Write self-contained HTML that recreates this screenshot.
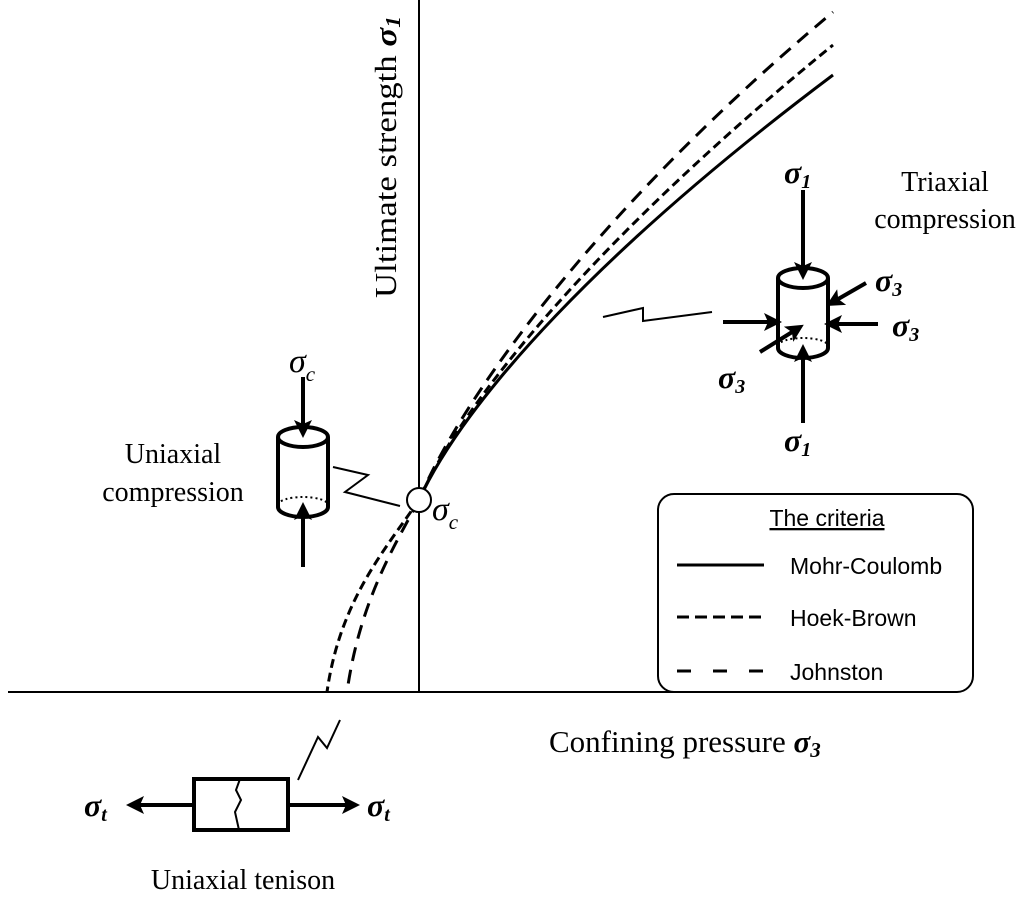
<!DOCTYPE html>
<html><head><meta charset="utf-8"><style>
html,body{margin:0;padding:0;background:#fff;}
svg{display:block;}
.s{font-family:"Liberation Serif",serif;}
.a{font-family:"Liberation Sans",sans-serif;}
</style></head><body>
<svg width="1024" height="897" viewBox="0 0 1024 897" xmlns="http://www.w3.org/2000/svg">
<defs>
<marker id="ah" markerWidth="4.5" markerHeight="4.5" refX="2.5" refY="2.25" orient="auto" markerUnits="strokeWidth"><path d="M0,0 L4.5,2.25 L0,4.5 L1,2.25 z" fill="#000"/></marker>
</defs>
<line x1="419" y1="0" x2="419" y2="692" stroke="#000" stroke-width="2"/>
<line x1="8" y1="692" x2="880" y2="692" stroke="#000" stroke-width="2"/>
<path d="M419,500 C465,400 600,250 833,75" fill="none" stroke="#000" stroke-width="3"/>
<path d="M419,500 C463,400 600,235 833,45" fill="none" stroke="#000" stroke-width="3" stroke-dasharray="9,5"/>
<path d="M419,500 C458,405 590,215 833,12" fill="none" stroke="#000" stroke-width="3" stroke-dasharray="14,9"/>
<path d="M419,500 C395,545 360,600 347,692" fill="none" stroke="#000" stroke-width="3" stroke-dasharray="14,9"/>
<path d="M419,500 C385,550 340,600 327,692" fill="none" stroke="#000" stroke-width="3" stroke-dasharray="9,5"/>
<circle cx="419" cy="500" r="12" fill="#fff" stroke="#000" stroke-width="2"/>
<text class="s" font-size="31" transform="translate(396,298) rotate(-90)" textLength="282" lengthAdjust="spacingAndGlyphs">Ultimate strength <tspan font-style="italic" font-weight="bold">σ<tspan font-size="21" dy="4">1</tspan></tspan></text>
<text class="s" font-size="31" x="549" y="752">Confining pressure <tspan font-style="italic" font-weight="bold">σ<tspan font-size="21" dy="5">3</tspan></tspan></text>
<text class="s" font-size="28" x="945" y="191" text-anchor="middle">Triaxial</text>
<text class="s" font-size="28" x="945" y="228" text-anchor="middle">compression</text>
<text class="s" font-size="28" x="173" y="463" text-anchor="middle">Uniaxial</text>
<text class="s" font-size="28" x="173" y="501" text-anchor="middle">compression</text>
<text class="s" font-size="28" x="243" y="889" text-anchor="middle">Uniaxial tenison</text>
<text class="s" font-size="34" font-style="italic" x="432" y="520">σ<tspan font-size="21" dy="9">c</tspan></text>
<g stroke="#000" stroke-width="4" fill="none">
<path d="M278,437 L278,507 A25,10 0 0 0 328,507 L328,437"/>
<ellipse cx="303" cy="437" rx="25" ry="10" fill="#fff"/>
<path d="M278,505 A25,8 0 0 1 328,505" stroke-width="2" stroke-dasharray="2,3"/>
<line x1="303" y1="377" x2="303" y2="430" marker-end="url(#ah)"/>
<line x1="303" y1="567" x2="303" y2="510" marker-end="url(#ah)"/>
</g>
<text class="s" font-size="34" font-style="italic" x="289" y="372">σ<tspan font-size="21" dy="9">c</tspan></text>
<polyline points="333,467 368,475 345,492 400,506" fill="none" stroke="#000" stroke-width="2"/>
<g stroke="#000" stroke-width="4" fill="none">
<path d="M778,278 L778,348 A25,10 0 0 0 828,348 L828,278"/>
<ellipse cx="803" cy="278" rx="25" ry="10" fill="#fff"/>
<path d="M778,346 A25,8 0 0 1 828,346" stroke-width="2" stroke-dasharray="2,3"/>
<line x1="803" y1="190" x2="803" y2="272" marker-end="url(#ah)"/>
<line x1="803" y1="423" x2="803" y2="352" marker-end="url(#ah)"/>
<line x1="723" y1="322" x2="774" y2="322" marker-end="url(#ah)"/>
<line x1="878" y1="324" x2="832" y2="324" marker-end="url(#ah)"/>
<line x1="866" y1="283" x2="833" y2="302" marker-end="url(#ah)"/>
<line x1="760" y1="352" x2="797" y2="329" marker-end="url(#ah)"/>
</g>
<g class="s" font-size="32" font-style="italic" font-weight="bold">
<text x="784" y="183">σ<tspan font-size="20" dy="5">1</tspan></text>
<text x="875" y="291">σ<tspan font-size="20" dy="5">3</tspan></text>
<text x="892" y="336">σ<tspan font-size="20" dy="5">3</tspan></text>
<text x="718" y="388">σ<tspan font-size="20" dy="5">3</tspan></text>
<text x="784" y="451">σ<tspan font-size="20" dy="5">1</tspan></text>
</g>
<polyline points="603,317 643,308 643,321 712,312" fill="none" stroke="#000" stroke-width="2"/>
<g stroke="#000" stroke-width="4" fill="none">
<rect x="194" y="779" width="94" height="51" fill="#fff"/>
<path d="M240,779 L236,790 L241,800 L235,812 L239,830" stroke-width="2"/>
<line x1="194" y1="805" x2="134" y2="805" marker-end="url(#ah)"/>
<line x1="288" y1="805" x2="352" y2="805" marker-end="url(#ah)"/>
</g>
<polyline points="298,780 318,737 327,748 340,720" fill="none" stroke="#000" stroke-width="2"/>
<g class="s" font-size="32" font-style="italic" font-weight="bold">
<text x="84" y="816">σ<tspan font-size="20" dy="5">t</tspan></text>
<text x="367" y="816">σ<tspan font-size="20" dy="5">t</tspan></text>
</g>
<rect x="658" y="494" width="315" height="198" rx="16" fill="#fff" stroke="#000" stroke-width="2"/>
<text class="a" font-size="23" x="827" y="526" text-anchor="middle" text-decoration="underline">The criteria</text>
<line x1="677" y1="565" x2="764" y2="565" stroke="#000" stroke-width="3"/>
<line x1="677" y1="617" x2="764" y2="617" stroke="#000" stroke-width="3" stroke-dasharray="12,6"/>
<line x1="677" y1="671" x2="764" y2="671" stroke="#000" stroke-width="3" stroke-dasharray="14,22"/>
<text class="a" font-size="23" x="790" y="574">Mohr-Coulomb</text>
<text class="a" font-size="23" x="790" y="626">Hoek-Brown</text>
<text class="a" font-size="23" x="790" y="680">Johnston</text>
</svg>
</body></html>
